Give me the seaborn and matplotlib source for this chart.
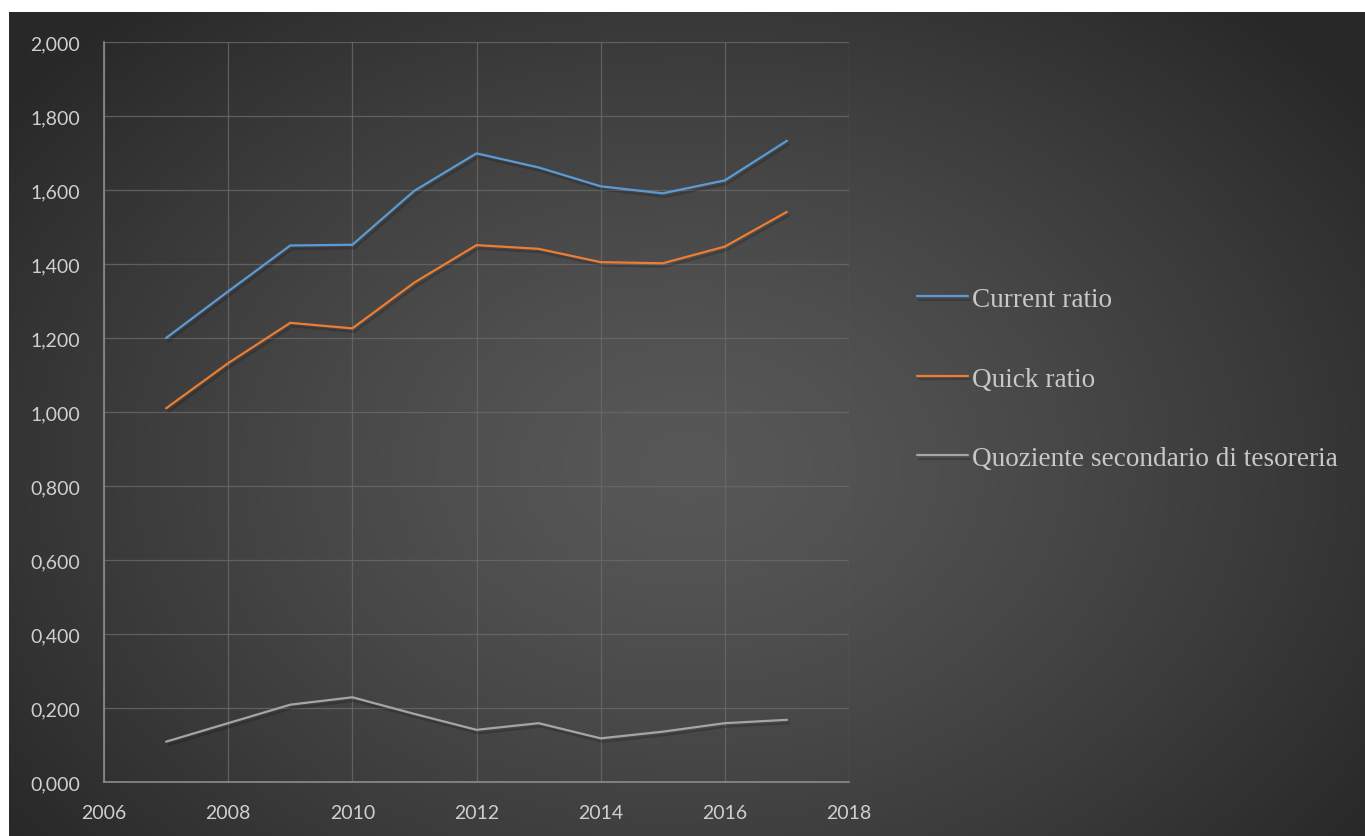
import numpy as np
import pandas as pd
import matplotlib
matplotlib.use("Agg")
import matplotlib.pyplot as plt
import matplotlib.patheffects as pe
from matplotlib.ticker import FuncFormatter, MultipleLocator
import seaborn as sns

years = [2007, 2008, 2009, 2010, 2011, 2012, 2013, 2014, 2015, 2016, 2017]
current_ratio = [1.200, 1.326, 1.450, 1.452, 1.598, 1.699, 1.661, 1.610, 1.591, 1.626, 1.733]
quick_ratio = [1.010, 1.132, 1.241, 1.226, 1.350, 1.451, 1.441, 1.405, 1.402, 1.447, 1.541]
quoziente_secondario = [0.109, 0.159, 0.209, 0.229, 0.184, 0.141, 0.159, 0.118, 0.136, 0.159, 0.168]

series_names = ["Current ratio", "Quick ratio", "Quoziente secondario di tesoreria"]
series_colors = ["#5B9BD5", "#ED7D31", "#A5A5A5"]

df = pd.concat([
    pd.DataFrame({"Anno": years, "Valore": vals, "Serie": name})
    for name, vals in zip(series_names, [current_ratio, quick_ratio, quoziente_secondario])
])

sns.set_theme(style="dark")
plt.rcParams["font.family"] = ["Lato", "DejaVu Sans"]

W, H = 1365, 837
fig = plt.figure(figsize=(W / 100, H / 100), dpi=100, facecolor="white")

# Radial gradient backdrop of the chart area
bg_left, bg_top = 9 / W, 13 / H
bg = fig.add_axes([bg_left, 0, 1 - bg_left, 1 - bg_top])
ny, nx = 400, 660
yy, xx = np.mgrid[0:ny, 0:nx]
cx, cy = nx * 0.50, ny * 0.55
r = np.sqrt(((xx - cx) / (nx * 0.62)) ** 2 + ((yy - cy) / (ny * 0.75)) ** 2)
r = np.clip(r, 0, 1)
shade = 0.345 - (0.345 - 0.158) * r ** 1.3
img = np.dstack([shade, shade, shade])
bg.imshow(img, aspect="auto", extent=[0, 1, 0, 1], interpolation="bilinear")
bg.set_axis_off()

ax = fig.add_axes([104 / W, 1 - 783 / H, (849 - 104) / W, (783 - 43) / H])
ax.set_facecolor("none")

sns.lineplot(data=df, x="Anno", y="Valore", hue="Serie", palette=series_colors,
             linewidth=1.6, ax=ax, legend=True)

for line in ax.get_lines():
    line.set_path_effects([pe.SimpleLineShadow(offset=(1.5, -2.5), shadow_color="black", alpha=0.18),
                           pe.Normal()])

ax.set_xlim(2006, 2018)
ax.set_ylim(0, 2.0)
ax.xaxis.set_major_locator(MultipleLocator(2))
ax.yaxis.set_major_locator(MultipleLocator(0.2))
ax.yaxis.set_major_formatter(FuncFormatter(lambda v, p: f"{v:.3f}".replace(".", ",")))
ax.xaxis.set_major_formatter(FuncFormatter(lambda v, p: f"{int(round(v))}"))
ax.set_xlabel("")
ax.set_ylabel("")

ax.grid(True, color="#6a6a6a", linewidth=0.9, alpha=0.8)
ax.set_axisbelow(True)
for side in ["top", "right"]:
    ax.spines[side].set_visible(False)
for side in ["left", "bottom"]:
    ax.spines[side].set_visible(True)
    ax.spines[side].set_color("#8c8c8c")
    ax.spines[side].set_linewidth(1.2)

ax.tick_params(axis="both", length=0, labelsize=14, labelcolor="#cfcfcf")
ax.tick_params(axis="y", pad=17)
ax.tick_params(axis="x", pad=16)

handles, labels = ax.get_legend_handles_labels()
ax.get_legend().remove()
leg = fig.legend(handles, labels, loc="center left", bbox_to_anchor=(892 / W, 1 - 380 / H),
                 frameon=False, handlelength=1.9, handletextpad=0.15, labelspacing=2.0,
                 prop={"family": "Liberation Serif", "size": 19.6})
for t in leg.get_texts():
    t.set_color("#c8c8c8")

fig.savefig("out.png", dpi=100, facecolor="white")
